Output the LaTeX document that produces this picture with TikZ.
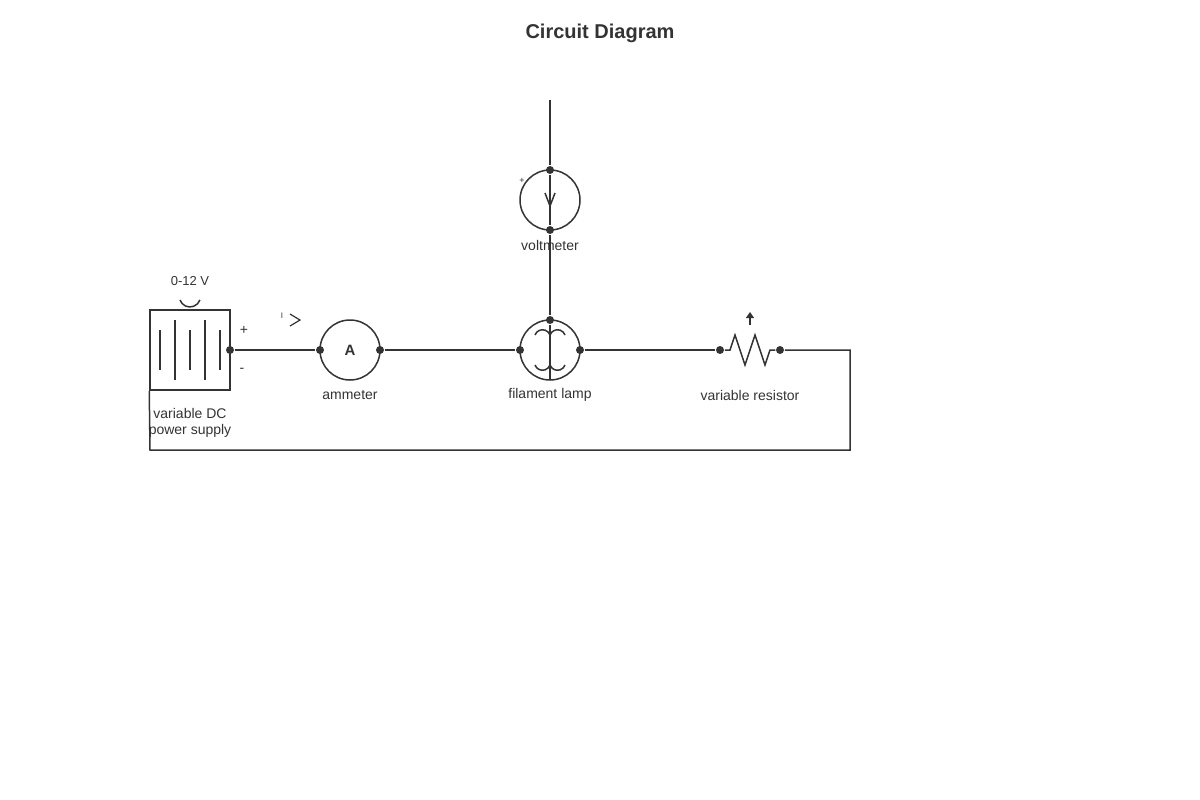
\documentclass[tikz,border=0pt]{standalone}
\usepackage{fontspec}
\setmainfont{Liberation Sans}
\usetikzlibrary{arrows.meta}
\begin{document}
\begin{tikzpicture}[x=1pt,y=-1pt,line width=1.5pt,color={black!80},
  dot/.style={circle,fill=black!80,inner sep=0pt,minimum size=8pt},
  lbl/.style={font=\fontsize{14}{14}\selectfont,text=black!80},
  meter/.style={draw,circle,minimum size=60pt,inner sep=0pt,line width=1.5pt}]
\useasboundingbox (0,0) rectangle (1200,800);
\node[font=\bfseries\fontsize{20}{20}\selectfont,text=black!80] (title) at (600,33) {Circuit Diagram};
% battery
\node[draw,minimum size=80pt,inner sep=0pt,line width=1.5pt] (bat) at (190,350) {};
\foreach \x in {175,205} \draw (\x,320) -- (\x,380);
\foreach \x in {160,190,220} \draw[line width=2.5pt] (\x,330) -- (\x,370);
\draw (180,300) arc[start angle=160,end angle=20,radius=10.6];
\node[lbl,font=\fontsize{13}{13}\selectfont] (v12) at (190,281) {0-12 V};
\node[lbl] (plus) at (244,330) {+};
\node[lbl] (minus) at (242,370) {-};
\node[lbl,align=center,font=\fontsize{14}{16}\selectfont] (batl) at (190,423) {variable DC\\power supply};
\node[dot] (b1) at (230,350) {};
% ammeter
\node[meter] (am) at (350,350) {};
\node[font=\bfseries\fontsize{15}{15}\selectfont,text=black!80] (A) at (350,350) {A};
\node[dot] (a1) at (320,350) {};
\node[dot] (a2) at (380,350) {};
\node[lbl] (aml) at (350,395) {ammeter};
\node[font=\fontsize{8}{8}\selectfont,text=black!80] (I) at (282,316) {I};
\draw[line width=1.2pt] (290,314) -- (300,320) -- (290,326);
% lamp
\node[meter] (lamp) at (550,350) {};
\node[dot] (l1) at (520,350) {};
\node[dot] (l2) at (580,350) {};
\node[dot] (l3) at (550,320) {};
\coordinate (lb) at (550,380);
\draw (535,335) arc[start angle=200,end angle=340,radius=8];
\draw (550,335) arc[start angle=200,end angle=340,radius=8];
\draw (535,365) arc[start angle=160,end angle=20,radius=8];
\draw (550,365) arc[start angle=160,end angle=20,radius=8];
\draw (l3) -- (lb);
\node[lbl] (lampl) at (550,395) {filament lamp};
% voltmeter
\node[meter] (vm) at (550,200) {};
\node[dot] (v1) at (550,170) {};
\node[dot] (v2) at (550,230) {};
\coordinate (vtop) at (550,100);
\draw (vtop) -- (v1) -- (v2) -- (l3);
\draw (545,193) -- (550,206) -- (555,193);
\node[font=\fontsize{9}{9}\selectfont,text=black!80] (vp) at (522,181) {+};
\node[lbl] (vml) at (550,245) {voltmeter};
% resistor
\node[dot] (r1) at (720,350) {};
\node[dot] (r2) at (780,350) {};
\draw (r1) -- (730,350) -- (735,335) -- (745,365) -- (755,335) -- (765,365) -- (770,350) -- (r2);
\draw[line width=1.2pt,-{Triangle[length=6pt,width=8pt]}] (750,325) -- (750,312);
\node[lbl] (rl) at (750,395) {variable resistor};
% wires
\draw (b1) -- (a1);
\draw (a2) -- (l1);
\draw (l2) -- (r1);
\coordinate (c1) at (850,350);
\coordinate (c2) at (850,450);
\coordinate (c3) at (150,450);
\draw (r2) -- (c1) -- (c2) -- (c3) -- (bat.south west);
\end{tikzpicture}
\end{document}
